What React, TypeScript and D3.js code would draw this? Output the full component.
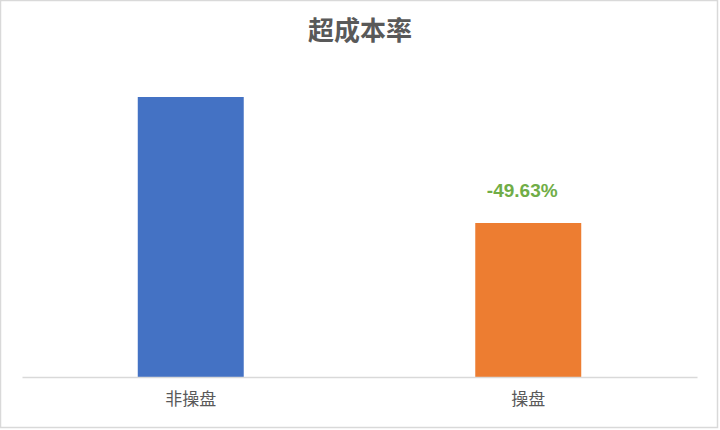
import React, { useRef, useEffect } from 'react';
import * as d3 from 'd3';

// chart data (relative scale)
const categories = ['非操盘', '操盘'];
const values = [1.0, 0.55];
const barColors = ['#4472C4', '#ED7D31'];
const dataLabels = ['', '-49.63%'];
const chartTitle = '超成本率';

const App: React.FC = () => {
  const chartRef = useRef<SVGSVGElement>(null);

  useEffect(() => {
    document.body.style.margin = '0';
    if (!chartRef.current) return;
    const svg = d3.select(chartRef.current);
    svg.selectAll('*').remove();

    const width = 720;
    const height = 430;
    const margin = { top: 97, right: 23, bottom: 53, left: 22 };
    const cjk = '"Noto Sans CJK SC", "Noto Sans", sans-serif';

    // outer border
    svg.append('rect')
      .attr('x', 0.5)
      .attr('y', 0.5)
      .attr('width', 717)
      .attr('height', 427)
      .attr('fill', '#fff')
      .attr('stroke', '#d9d9d9')
      .attr('stroke-width', 1.5);

    // title
    svg.append('text')
      .attr('x', width / 2)
      .attr('y', 40)
      .attr('text-anchor', 'middle')
      .style('font-family', cjk)
      .style('font-size', '26px')
      .style('font-weight', 'bold')
      .style('fill', '#595959')
      .text(chartTitle);

    // scales
    const x = d3.scaleBand()
      .domain(categories)
      .range([margin.left, width - margin.right])
      .paddingInner(0.686)
      .paddingOuter(0.343);

    const y = d3.scaleLinear()
      .domain([0, d3.max(values) || 1])
      .range([height - margin.bottom, margin.top]);

    // bars
    svg.append('g')
      .selectAll('rect')
      .data(categories)
      .enter()
      .append('rect')
      .attr('x', d => x(d) || 0)
      .attr('y', (d, i) => y(values[i]))
      .attr('width', x.bandwidth())
      .attr('height', (d, i) => y(0) - y(values[i]))
      .attr('fill', (d, i) => barColors[i]);

    // data labels
    svg.append('g')
      .selectAll('text')
      .data(categories)
      .enter()
      .append('text')
      .attr('x', d => (x(d) || 0) + x.bandwidth() / 2 - 6)
      .attr('y', (d, i) => y(values[i]) - 26)
      .attr('text-anchor', 'middle')
      .style('font-family', '"Liberation Sans", "Noto Sans", sans-serif')
      .style('font-size', '19px')
      .style('font-weight', 'bold')
      .style('fill', '#70AD47')
      .text((d, i) => dataLabels[i]);

    // x axis
    const axis = svg.append('g')
      .attr('transform', `translate(0,${y(0)})`)
      .call(d3.axisBottom(x).tickSize(0).tickPadding(16));
    axis.select('.domain')
      .attr('stroke', '#d9d9d9')
      .attr('stroke-width', 1.5);
    axis.selectAll('.tick text')
      .style('font-family', cjk)
      .style('font-size', '17px')
      .style('fill', '#595959');
  }, []);

  return (
    <div>
      <svg ref={chartRef} width={720} height={430} style={{ display: 'block' }} />
    </div>
  );
};

export default App;
